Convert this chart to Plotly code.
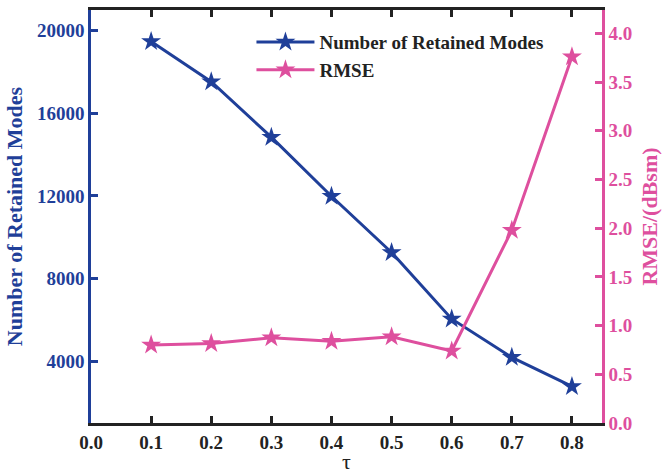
import plotly.graph_objects as go

tau = [0.1, 0.2, 0.3, 0.4, 0.5, 0.6, 0.7, 0.8]
modes = [19480, 17530, 14840, 11980, 9260, 6040, 4180, 2770]
rmse = [0.80, 0.815, 0.875, 0.84, 0.885, 0.74, 1.98, 3.76]

x_ticks = [0.0, 0.1, 0.2, 0.3, 0.4, 0.5, 0.6, 0.7, 0.8]
y1_ticks = [4000, 8000, 12000, 16000, 20000]
y2_ticks = [0.0, 0.5, 1.0, 1.5, 2.0, 2.5, 3.0, 3.5, 4.0]

BLUE = "#1F3F99"
PINK = "#DE4F9E"
DARK = "#222222"
FONT = "Liberation Serif"

fig = go.Figure()
fig.add_trace(go.Scatter(
    x=tau, y=modes, name="<b>Number of Retained Modes</b>", mode="lines+markers",
    line=dict(color=BLUE, width=3),
    marker=dict(symbol="star", size=15, color=BLUE),
    yaxis="y"))
fig.add_trace(go.Scatter(
    x=tau, y=rmse, name="<b>RMSE</b>", mode="lines+markers",
    line=dict(color=PINK, width=3),
    marker=dict(symbol="star", size=15, color=PINK),
    yaxis="y2"))

fig.update_layout(
    width=662, height=474,
    margin=dict(l=91, r=60, t=10, b=51, autoexpand=False),
    plot_bgcolor="white", paper_bgcolor="white",
    font=dict(family=FONT, size=19, color=DARK),
    showlegend=True,
    legend=dict(x=0.314, y=0.968, xanchor="left", yanchor="top",
                bgcolor="rgba(0,0,0,0)", font=dict(size=19, color=DARK),
                itemwidth=58),
    xaxis=dict(
        range=[0, 0.85], tickvals=x_ticks,
        ticktext=[f"<b>{v:.1f}</b>" for v in x_ticks],
        showgrid=False, zeroline=False, automargin=False,
        showline=True, linecolor=DARK, linewidth=3, mirror="ticks",
        ticks="inside", ticklen=7, tickwidth=2.5, tickcolor=DARK,
        tickfont=dict(size=19, color=DARK, family=FONT),
        title=dict(text="τ", font=dict(size=22, color=DARK, family=FONT), standoff=6),
    ),
    yaxis=dict(
        range=[1000, 21000], tickvals=y1_ticks,
        ticktext=[f"<b>{v}</b>" for v in y1_ticks],
        showgrid=False, zeroline=False, automargin=False,
        showline=True, linecolor=BLUE, linewidth=2.5,
        ticks="inside", ticklen=7, tickwidth=2.5, tickcolor=BLUE,
        tickfont=dict(size=19, color=BLUE, family=FONT),
        title=dict(text="<b>Number of Retained Modes</b>",
                   font=dict(size=22, color=BLUE, family=FONT), standoff=9),
    ),
    yaxis2=dict(
        range=[0, 4.24], tickvals=y2_ticks,
        ticktext=[f"<b>{v:.1f}</b>" for v in y2_ticks],
        overlaying="y", side="right",
        showgrid=False, zeroline=False, automargin=False,
        showline=True, linecolor=PINK, linewidth=2.5,
        ticks="inside", ticklen=7, tickwidth=2.5, tickcolor=PINK,
        tickfont=dict(size=19, color=PINK, family=FONT),
        title=dict(text="<b>RMSE/(dBsm)</b>",
                   font=dict(size=22, color=PINK, family=FONT), standoff=17),
    ),
)

fig.write_html("out.html")
